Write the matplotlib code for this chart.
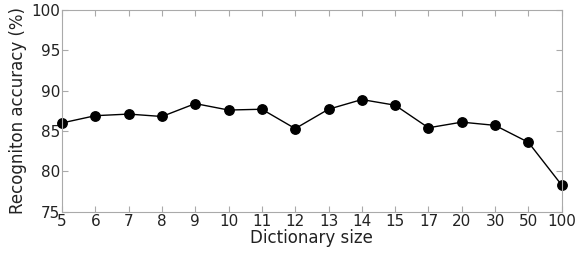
import matplotlib
matplotlib.use("Agg")
import matplotlib.pyplot as plt

# Dictionary sizes (categorical, evenly spaced) and accuracy
sizes = ["5", "6", "7", "8", "9", "10", "11", "12", "13", "14", "15", "17", "20", "30", "50", "100"]
accuracy = [86.0, 86.9, 87.1, 86.8, 88.4, 87.6, 87.7, 85.3, 87.7, 88.9, 88.2, 85.4, 86.1, 85.7, 83.6, 78.3]
yticks = [75, 80, 85, 90, 95, 100]

fig = plt.figure(figsize=(5.77, 2.54), dpi=100)
ax = fig.add_axes([62 / 577, 1 - 211.7 / 254, 499.7 / 577, 201.7 / 254])

x = list(range(len(sizes)))
ax.plot(x, accuracy, color="black", linewidth=1, marker="o", markersize=6.8, clip_on=False)

ax.set_xlim(0, len(sizes) - 1)
ax.set_ylim(75, 100)
ax.set_xticks(x)
ax.set_xticklabels(sizes)
ax.set_yticks(yticks)

for s in ax.spines.values():
    s.set_color("#aaaaaa")
ax.tick_params(direction="in", top=True, right=True, color="#aaaaaa",
               labelsize=11, labelcolor="#222222", length=4, pad=1.5)
ax.set_xlabel("Dictionary size", fontsize=12, labelpad=0, color="#222222")
ax.set_ylabel("Recogniton accuracy (%)", fontsize=12, labelpad=3, color="#222222")

fig.savefig("out.png", dpi=100)
